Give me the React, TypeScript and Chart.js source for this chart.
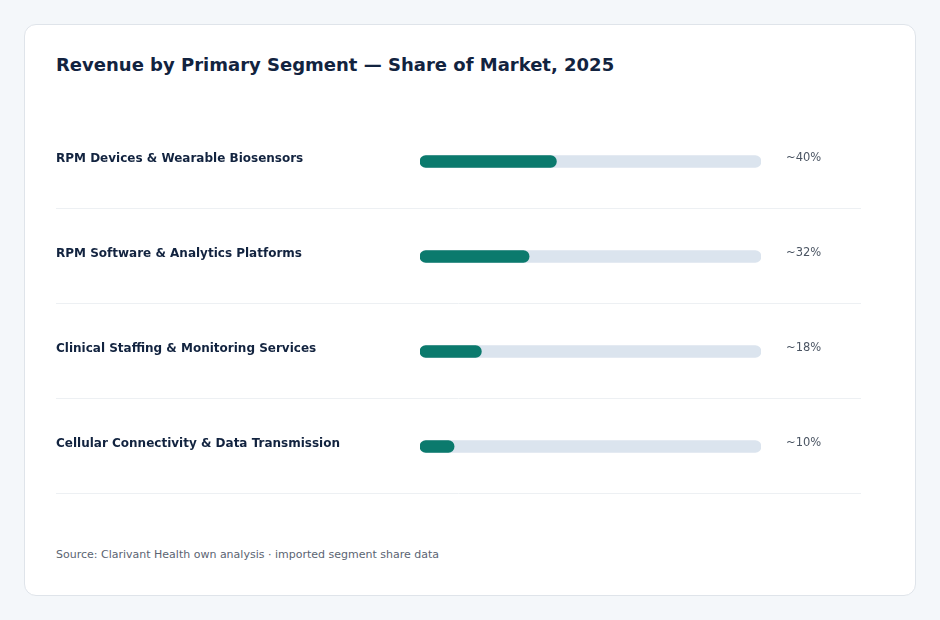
import React, { useEffect, useRef } from "react";
import { Chart, registerables } from "chart.js";

Chart.register(...registerables);

const categories = [
  "RPM Devices & Wearable Biosensors",
  "RPM Software & Analytics Platforms",
  "Clinical Staffing & Monitoring Services",
  "Cellular Connectivity & Data Transmission",
];
const shares = [40, 32, 18, 10];
const valueLabels = ["~40%", "~32%", "~18%", "~10%"];
const trackValues = [100, 100, 100, 100];

const FONT = "'DejaVu Sans', 'Noto Sans', sans-serif";

const separatorPlugin = {
  id: "rowSeparators",
  beforeDatasetsDraw(chart: any) {
    const y = chart.scales.y;
    const y2 = chart.scales.y2;
    const ctx = chart.ctx;
    const half = (y.getPixelForValue(1) - y.getPixelForValue(0)) / 2;
    ctx.save();
    ctx.strokeStyle = "#edf0f3";
    ctx.lineWidth = 1;
    for (let i = 0; i < categories.length; i++) {
      const yy = Math.round(y.getPixelForValue(i) + half) - 0.5;
      ctx.beginPath();
      ctx.moveTo(y.left, yy);
      ctx.lineTo(y2.right, yy);
      ctx.stroke();
    }
    ctx.restore();
  },
};

export default function App() {
  const ref = useRef<HTMLCanvasElement | null>(null);

  useEffect(() => {
    if (!ref.current) return;
    const chart = new Chart(ref.current, {
      type: "bar",
      data: {
        labels: categories,
        datasets: [
          {
            label: "Share",
            data: shares,
            backgroundColor: "#0b7a6d",
            barThickness: 12,
            borderRadius: 6,
            borderSkipped: false,
            grouped: false,
          } as any,
          {
            label: "Track",
            data: trackValues,
            backgroundColor: "#dbe4ee",
            barThickness: 12,
            borderRadius: 6,
            borderSkipped: false,
            grouped: false,
          } as any,
        ],
      },
      options: {
        indexAxis: "y",
        animation: false,
        responsive: true,
        maintainAspectRatio: false,
        layout: { padding: { top: 14, bottom: 16, left: 0, right: 0 } },
        plugins: {
          legend: { display: false },
          tooltip: { enabled: false },
        },
        scales: {
          x: { display: false, min: 0, max: 100 },
          y: {
            type: "category",
            position: "left",
            offset: true,
            grid: { display: false, drawTicks: false },
            border: { display: false },
            ticks: {
              crossAlign: "far",
              padding: 0,
              labelOffset: -3,
              color: "#12233f",
              font: { family: FONT, size: 12, weight: "bold" },
            },
            afterFit: (scale: any) => {
              scale.width = 364;
            },
          },
          y2: {
            type: "category",
            position: "right",
            labels: valueLabels,
            offset: true,
            grid: { display: false, drawTicks: true, tickLength: 25 },
            border: { display: false },
            ticks: {
              crossAlign: "near",
              padding: 0,
              labelOffset: -3,
              color: "#4b5563",
              font: { family: FONT, size: 11.5 },
            },
            afterFit: (scale: any) => {
              scale.width = 100;
            },
          },
        } as any,
      },
      plugins: [separatorPlugin],
    });
    return () => chart.destroy();
  }, []);

  return (
    <div style={{ position: "fixed", inset: 0, background: "#f4f7fa", fontFamily: FONT }}>
      <div
        style={{
          position: "absolute",
          left: 24,
          top: 24,
          width: 892,
          height: 572,
          boxSizing: "border-box",
          background: "#ffffff",
          border: "1px solid #dfe4ea",
          borderRadius: 12,
        }}
      />
      <div
        style={{
          position: "absolute",
          left: 56,
          top: 54,
          fontSize: 18,
          lineHeight: "22px",
          fontWeight: 700,
          color: "#12233f",
          whiteSpace: "nowrap",
        }}
      >
        Revenue by Primary Segment — Share of Market, 2025
      </div>
      <div style={{ position: "absolute", left: 56, top: 100, width: 805, height: 410 }}>
        <canvas ref={ref} />
      </div>
      <div
        style={{
          position: "absolute",
          left: 56,
          top: 548,
          fontSize: 11,
          lineHeight: "14px",
          color: "#5b6472",
          whiteSpace: "nowrap",
        }}
      >
        Source: Clarivant Health own analysis · imported segment share data
      </div>
    </div>
  );
}
